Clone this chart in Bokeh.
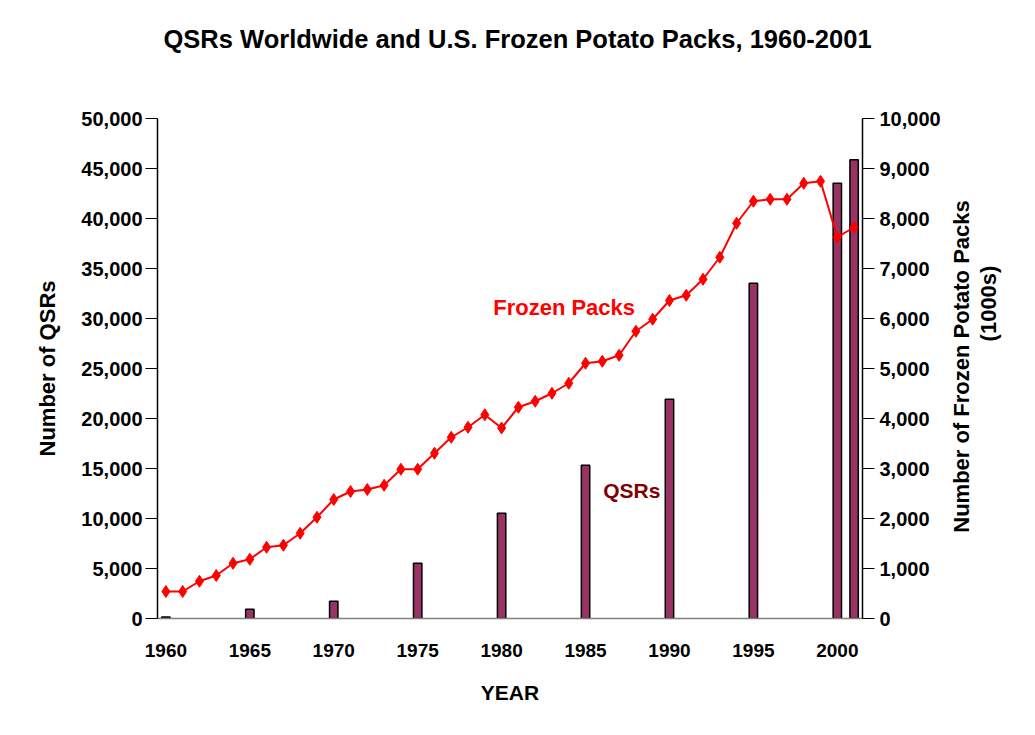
import math
from bokeh.plotting import figure
from bokeh.layouts import row
from bokeh.models import Range1d, LinearAxis, FixedTicker, NumeralTickFormatter, Label, Title
from bokeh.embed import file_html
from bokeh.resources import INLINE
from bokeh.core.properties import value

# ---- data ----
years = list(range(1960, 2002))
packs = [540, 540, 745, 860, 1105, 1185, 1425, 1465, 1705, 2025,
         2380, 2540, 2580, 2665, 2985, 2985, 3305, 3625, 3825, 4075,
         3810, 4225, 4345, 4505, 4705, 5105, 5145, 5265, 5745, 5985,
         6360, 6465, 6785, 7225, 7905, 8345, 8385, 8385, 8705, 8745,
         7625, 7825]
qsr_years = [1960, 1965, 1970, 1975, 1980, 1985, 1990, 1995, 2000, 2001]
qsr_counts = [150, 930, 1730, 5530, 10530, 15330, 21930, 33530, 43530, 45870]
x_tick_years = [1960, 1965, 1970, 1975, 1980, 1985, 1990, 1995, 2000]
right_label_lines = ["Number of Frozen Potato Packs", "(1000s)"]

FONT = "Liberation Sans"
H = 727

p = figure(width=945, height=H, output_backend="svg", toolbar_location=None,
           x_range=Range1d(1959.5, 2001.5), y_range=Range1d(0, 50000),
           min_border_left=157, min_border_right=83, min_border_top=118, min_border_bottom=109)
p.extra_y_ranges = {"packs": Range1d(0, 10000)}
p.grid.visible = False
p.outline_line_color = None
p.background_fill_color = "white"
p.border_fill_color = "white"

p.title.text = "QSRs Worldwide and U.S. Frozen Potato Packs, 1960-2001"
p.title.align = "left"
p.title.offset = 6
p.title.text_font = FONT
p.title.text_font_style = "bold"
p.title.text_font_size = "25.5px"
p.title.text_color = "black"
p.title.standoff = 10
# spacer between title and plot area
p.add_layout(Title(text=" ", text_font_size="25.5px", standoff=31), "above")

# bars
p.vbar(x=qsr_years, top=qsr_counts, width=0.5, fill_color="#993366",
       line_color="black", line_width=1.5)
# line
p.line(x=years, y=packs, y_range_name="packs", line_color="#FF0000", line_width=2)
p.scatter(x=years, y=packs, y_range_name="packs", marker="diamond", size=12,
          fill_color="#FF0000", line_color="#FF0000")

def style_labels(ax, tick_size, label_size="22px"):
    ax.major_label_text_font = FONT
    ax.major_label_text_font_style = "bold"
    ax.major_label_text_font_size = tick_size
    ax.major_label_text_color = "black"
    ax.axis_label_text_font = FONT
    ax.axis_label_text_font_style = "bold"
    ax.axis_label_text_font_size = label_size
    ax.axis_label_text_color = "black"
    ax.minor_tick_line_color = None

# x axis
xa = p.xaxis[0]
xa.ticker = FixedTicker(ticks=x_tick_years)
xa.major_tick_line_color = None
xa.major_tick_out = 0
xa.major_tick_in = 0
xa.axis_line_color = "#808080"
xa.axis_line_width = 1.5
xa.major_label_standoff = 25
xa.axis_label = "YEAR"
xa.axis_label_standoff = 21
style_labels(xa, "19px", "21px")

# left y axis
ya = p.yaxis[0]
ya.ticker = FixedTicker(ticks=list(range(0, 50001, 5000)))
ya.formatter = NumeralTickFormatter(format="0,0")
ya.major_tick_out = 12
ya.major_tick_in = 0
ya.major_tick_line_color = "black"
ya.axis_line_color = "black"
ya.axis_line_width = 1.5
ya.major_label_standoff = 3
ya.axis_label = "Number of QSRs"
ya.axis_label_standoff = 18
style_labels(ya, "20px")

# right y axis (ticks only)
ra = LinearAxis(y_range_name="packs")
ra.ticker = FixedTicker(ticks=list(range(0, 10001, 1000)))
ra.formatter = NumeralTickFormatter(format="0,0")
ra.major_tick_out = 12
ra.major_tick_in = 0
ra.axis_line_color = "black"
ra.axis_line_width = 1.5
ra.major_label_standoff = 5
style_labels(ra, "20px")
p.add_layout(ra, "right")

# annotations
p.add_layout(Label(x=1979.5, y=31100, text="Frozen Packs", text_align="left",
                   text_baseline="middle", text_font=FONT, text_font_style="bold",
                   text_font_size="22px", text_color="#FF0000"))
p.add_layout(Label(x=1986.05, y=12800, text="QSRs", text_align="left",
                   text_baseline="middle", text_font=FONT, text_font_style="bold",
                   text_font_size="21px", text_color="#800000"))

# right-hand axis title (rotated, reading bottom to top), drawn in a narrow side panel
W2 = 1027 - 945
p2 = figure(width=W2, height=H, output_backend="svg", toolbar_location=None,
            x_range=Range1d(0, W2), y_range=Range1d(0, 10000),
            x_axis_location=None, y_axis_location=None,
            min_border_left=0, min_border_right=0, min_border_top=118, min_border_bottom=109)
p2.grid.visible = False
p2.outline_line_color = None
p2.border_fill_color = "white"
p2.text(x=[16, 43], y=[5040, 6300], text=right_label_lines, angle=math.pi / 2,
        text_align="center", text_baseline="middle", text_font=value(FONT),
        text_font_style="bold", text_font_size="22px", text_color="black")

layout = row(p, p2)
open("out.html", "w").write(file_html(layout, INLINE))
